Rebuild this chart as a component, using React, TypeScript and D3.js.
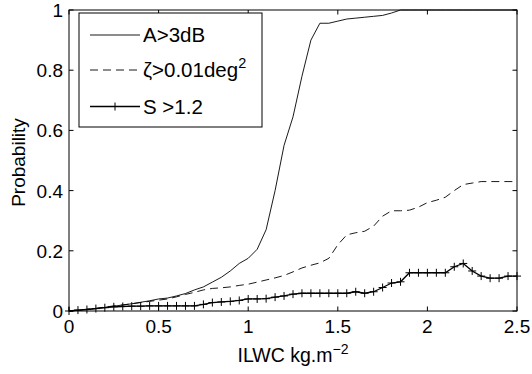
import React from 'react';
import * as d3 from 'd3';

const ILWC = [
  0, 0.05, 0.1, 0.15, 0.2, 0.25, 0.3, 0.35, 0.4, 0.45,
  0.5, 0.55, 0.6, 0.65, 0.7, 0.75, 0.8, 0.85, 0.9, 0.95,
  1.0, 1.05, 1.1, 1.15, 1.2, 1.25, 1.3, 1.35, 1.4, 1.45,
  1.5, 1.55, 1.6, 1.65, 1.7, 1.75, 1.8, 1.85, 1.9, 1.95,
  2.0, 2.05, 2.1, 2.15, 2.2, 2.25, 2.3, 2.35, 2.4, 2.45, 2.5,
];

const probA = [
  0, 0.002, 0.005, 0.008, 0.012, 0.016, 0.02, 0.024, 0.029, 0.034,
  0.04, 0.043, 0.05, 0.058, 0.07, 0.08, 0.096, 0.112, 0.133, 0.158,
  0.175, 0.205, 0.27, 0.4, 0.55, 0.645, 0.78, 0.9, 0.956, 0.956,
  0.963, 0.97, 0.973, 0.976, 0.979, 0.982, 0.99, 1, 1, 1,
  1, 1, 1, 1, 1, 1, 1, 1, 1, 1, 1,
];

const probZeta = [
  0, 0.003, 0.006, 0.009, 0.013, 0.017, 0.02, 0.024, 0.028, 0.032,
  0.036, 0.04, 0.047, 0.055, 0.062, 0.07, 0.075, 0.077, 0.08, 0.085,
  0.089, 0.096, 0.103, 0.11, 0.118, 0.13, 0.143, 0.152, 0.16, 0.175,
  0.22, 0.253, 0.26, 0.265, 0.282, 0.315, 0.333, 0.333, 0.335, 0.345,
  0.36, 0.368, 0.378, 0.4, 0.42, 0.425, 0.43, 0.43, 0.43, 0.43, 0.43,
];

const probS = [
  0, 0.003, 0.005, 0.008, 0.011, 0.014, 0.015, 0.016, 0.016, 0.017,
  0.017, 0.017, 0.017, 0.017, 0.017, 0.022, 0.028, 0.03, 0.032, 0.035,
  0.04, 0.04, 0.041, 0.046, 0.05, 0.056, 0.059, 0.059, 0.059, 0.059,
  0.059, 0.059, 0.064, 0.059, 0.064, 0.078, 0.093, 0.097, 0.127, 0.127,
  0.127, 0.127, 0.127, 0.147, 0.158, 0.133, 0.116, 0.109, 0.109, 0.116, 0.116,
];

const xTicks = [0, 0.5, 1, 1.5, 2, 2.5];
const xTickLabels = ['0', '0.5', '1', '1.5', '2', '2.5'];
const yTicks = [0, 0.2, 0.4, 0.6, 0.8, 1];
const yTickLabels = ['0', '0.2', '0.4', '0.6', '0.8', '1'];

const W = 532;
const H = 374;
const FONT = '"Liberation Sans", Arial, Helvetica, sans-serif';
const FS = 19;
const LFS = 20.5;

export default function App() {
  const x = d3.scaleLinear().domain([0, 2.5]).range([69, 517]);
  const y = d3.scaleLinear().domain([0, 1]).range([311, 10]);
  const [x0, x1] = x.range();
  const [y0, y1] = y.range();

  const mk = (vals: number[]) =>
    d3.line<number>().x((_, i) => x(ILWC[i])).y((d) => y(d))(vals) || '';

  const tl = 4.5;
  const m = 4;

  const leg = { x: 79, y: 13, w: 183, h: 114 };
  const rows = [35, 70, 106.5];

  return (
    <svg
      width={W}
      height={H}
      style={{ position: 'absolute', left: 0, top: 0, background: '#fff' }}
      fontFamily={FONT}
      fontSize={FS}
    >
      <rect x={0} y={0} width={W} height={H} fill="#fff" />
      {/* series */}
      <path d={mk(probA)} fill="none" stroke="#000" strokeWidth={0.9} />
      <path d={mk(probZeta)} fill="none" stroke="#000" strokeWidth={0.9} strokeDasharray="8,5" />
      <path d={mk(probS)} fill="none" stroke="#000" strokeWidth={1.3} />
      {probS.map((d, i) => (
        <g key={i} stroke="#000" strokeWidth={1}>
          <line x1={x(ILWC[i]) - m} x2={x(ILWC[i]) + m} y1={y(d)} y2={y(d)} />
          <line x1={x(ILWC[i])} x2={x(ILWC[i])} y1={y(d) - m} y2={y(d) + m} />
        </g>
      ))}

      {/* axes box */}
      <rect x={x0} y={y1} width={x1 - x0} height={y0 - y1} fill="none" stroke="#000" strokeWidth={1} />
      {xTicks.map((t, i) => (
        <g key={'xt' + i}>
          <line x1={x(t)} x2={x(t)} y1={y0} y2={y0 - tl} stroke="#000" />
          <line x1={x(t)} x2={x(t)} y1={y1} y2={y1 + tl} stroke="#000" />
          <text x={x(t)} y={333} textAnchor="middle">{xTickLabels[i]}</text>
        </g>
      ))}
      {yTicks.map((t, i) => (
        <g key={'yt' + i}>
          <line x1={x0} x2={x0 + tl} y1={y(t)} y2={y(t)} stroke="#000" />
          <line x1={x1} x2={x1 - tl} y1={y(t)} y2={y(t)} stroke="#000" />
          <text x={63} y={y(t) + 7} textAnchor="end">{yTickLabels[i]}</text>
        </g>
      ))}

      {/* axis labels */}
      <text x={(x0 + x1) / 2} y={362} textAnchor="middle" fontSize={19.5}>
        ILWC kg.m<tspan dy={-8} fontSize={14}>−2</tspan>
      </text>
      <text transform={`translate(25,${(y0 + y1) / 2 + 2}) rotate(-90)`} textAnchor="middle">
        Probability
      </text>

      {/* legend */}
      <rect x={leg.x} y={leg.y} width={leg.w} height={leg.h} fill="#fff" stroke="#000" strokeWidth={1} />
      <g fontSize={LFS}>
        <line x1={90} x2={140} y1={rows[0]} y2={rows[0]} stroke="#000" strokeWidth={0.9} />
        <text x={143} y={rows[0] + 7}>A&gt;3dB</text>
        <line x1={90} x2={140} y1={rows[1]} y2={rows[1]} stroke="#000" strokeWidth={0.9} strokeDasharray="8,5" />
        <text x={143} y={rows[1] + 7}>
          ζ&gt;0.01deg<tspan dy={-9} fontSize={14.5}>2</tspan>
        </text>
        <line x1={90} x2={140} y1={rows[2]} y2={rows[2]} stroke="#000" strokeWidth={1.3} />
        <line x1={115 - m} x2={115 + m} y1={rows[2]} y2={rows[2]} stroke="#000" />
        <line x1={115} x2={115} y1={rows[2] - m} y2={rows[2] + m} stroke="#000" />
        <text x={143} y={rows[2] + 7}>S &gt;1.2</text>
      </g>
    </svg>
  );
}
